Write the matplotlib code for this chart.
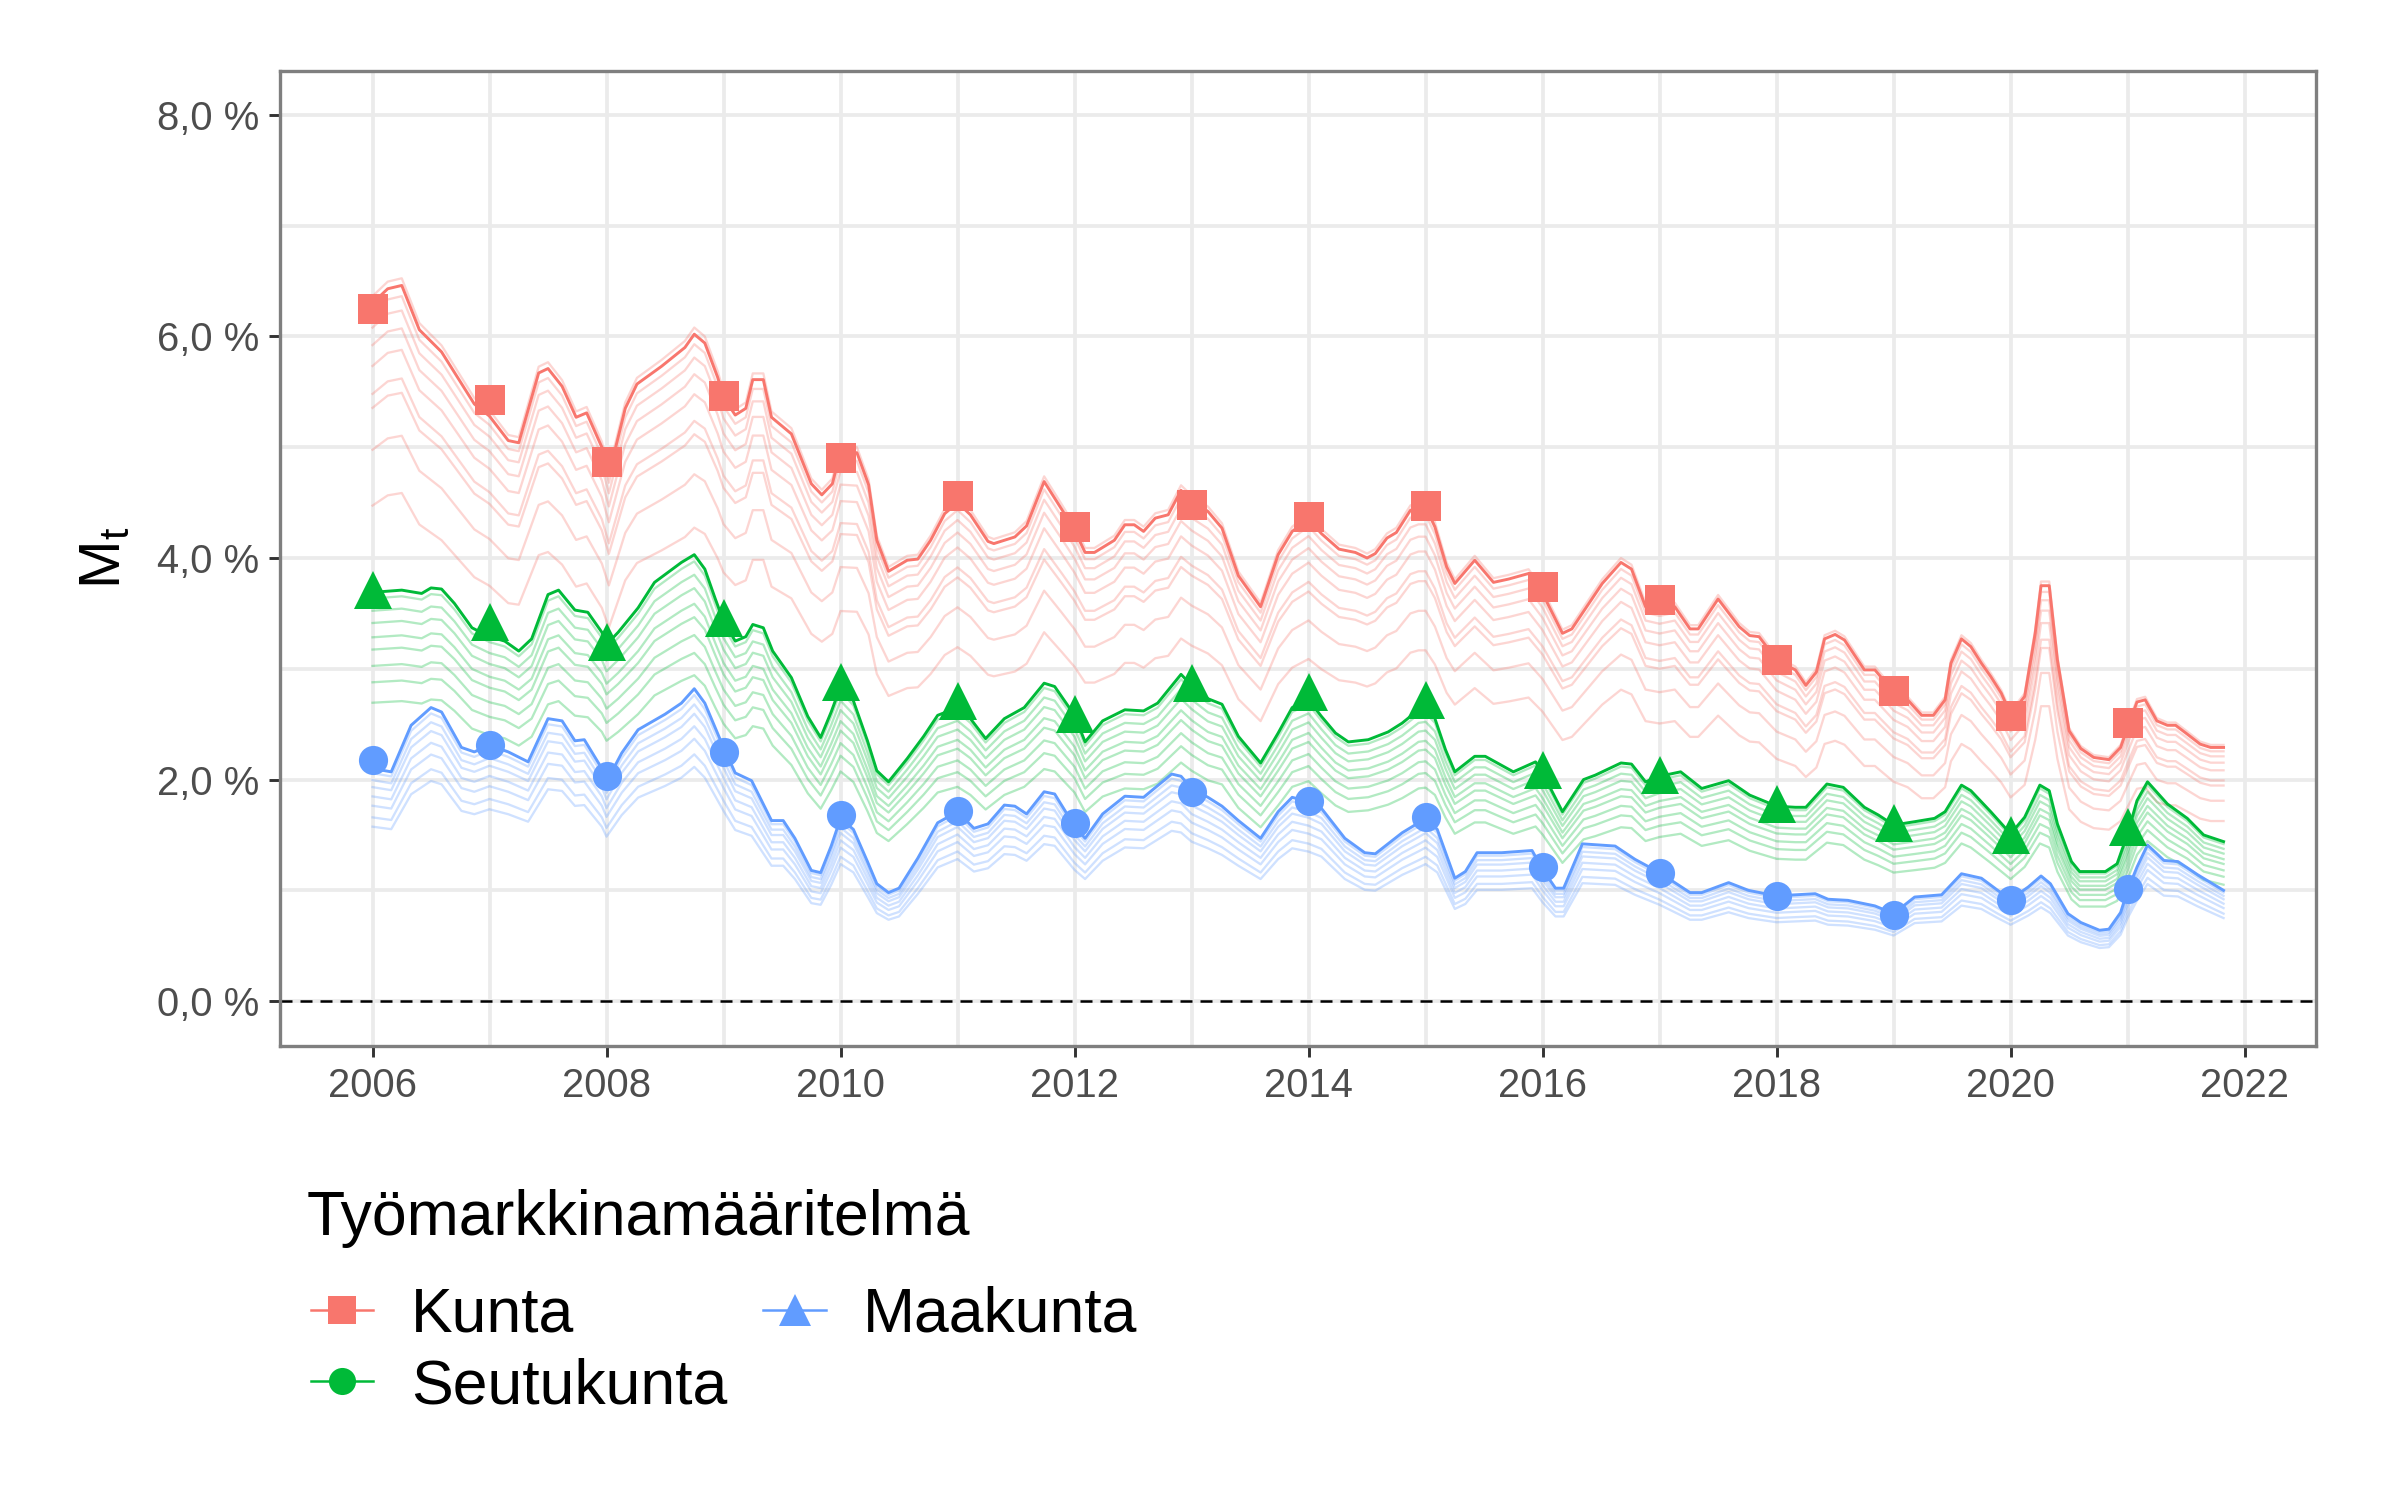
import numpy as np
import matplotlib
matplotlib.use('Agg')
import matplotlib.pyplot as plt
from matplotlib.lines import Line2D

plt.rcParams['font.family'] = ['Liberation Sans', 'DejaVu Sans']
plt.rcParams['mathtext.fontset'] = 'custom'
plt.rcParams['mathtext.rm'] = 'Liberation Sans'

# main (top) line of each group
kunta_t = [2006.00, 2006.13, 2006.25, 2006.40, 2006.59, 2006.87, 2007.00, 2007.16, 2007.25, 2007.42,
           2007.50, 2007.62, 2007.74, 2007.83, 2007.96, 2008.02, 2008.16, 2008.26, 2008.47, 2008.67,
           2008.75, 2008.84, 2008.95, 2009.00, 2009.10, 2009.19, 2009.25, 2009.34, 2009.41, 2009.58,
           2009.75, 2009.84, 2009.93, 2010.00, 2010.14, 2010.24, 2010.31, 2010.41, 2010.57, 2010.66,
           2010.77, 2010.89, 2011.00, 2011.11, 2011.26, 2011.31, 2011.49, 2011.59, 2011.74, 2011.89,
           2012.00, 2012.09, 2012.17, 2012.34, 2012.43, 2012.51, 2012.59, 2012.69, 2012.80, 2012.91,
           2013.00, 2013.14, 2013.26, 2013.40, 2013.59, 2013.74, 2013.86, 2014.00, 2014.11, 2014.26,
           2014.40, 2014.50, 2014.57, 2014.67, 2014.75, 2014.87, 2014.94, 2015.00, 2015.08, 2015.18,
           2015.25, 2015.42, 2015.58, 2015.71, 2015.88, 2016.00, 2016.17, 2016.25, 2016.51, 2016.67,
           2016.76, 2016.88, 2017.00, 2017.13, 2017.26, 2017.33, 2017.50, 2017.68, 2017.77, 2017.85,
           2018.00, 2018.16, 2018.25, 2018.34, 2018.41, 2018.50, 2018.58, 2018.75, 2018.84, 2019.00,
           2019.12, 2019.24, 2019.34, 2019.44, 2019.49, 2019.58, 2019.66, 2019.75, 2019.83, 2019.92,
           2020.00, 2020.12, 2020.21, 2020.26, 2020.33, 2020.40, 2020.50, 2020.60, 2020.71, 2020.84,
           2020.94, 2021.00, 2021.08, 2021.15, 2021.25, 2021.34, 2021.41, 2021.51, 2021.62, 2021.71,
           2021.82]
kunta_v = [6.30, 6.43, 6.46, 6.06, 5.86, 5.39, 5.28, 5.06, 5.04, 5.67,
           5.71, 5.55, 5.27, 5.31, 5.00, 4.75, 5.35, 5.57, 5.73, 5.90,
           6.02, 5.94, 5.63, 5.45, 5.29, 5.35, 5.61, 5.61, 5.27, 5.12,
           4.67, 4.57, 4.67, 4.96, 4.95, 4.66, 4.16, 3.88, 3.98, 3.99,
           4.16, 4.40, 4.50, 4.39, 4.15, 4.13, 4.19, 4.29, 4.69, 4.44,
           4.25, 4.05, 4.05, 4.16, 4.30, 4.30, 4.24, 4.36, 4.39, 4.61,
           4.52, 4.42, 4.27, 3.84, 3.56, 4.03, 4.24, 4.35, 4.22, 4.08,
           4.05, 4.00, 4.04, 4.18, 4.23, 4.43, 4.46, 4.46, 4.28, 3.92,
           3.77, 3.98, 3.78, 3.81, 3.86, 3.68, 3.32, 3.36, 3.77, 3.96,
           3.90, 3.56, 3.53, 3.56, 3.36, 3.36, 3.63, 3.38, 3.30, 3.29,
           3.08, 2.99, 2.85, 2.97, 3.27, 3.31, 3.26, 2.99, 2.99, 2.79,
           2.72, 2.58, 2.58, 2.72, 3.05, 3.27, 3.20, 3.05, 2.93, 2.78,
           2.59, 2.75, 3.32, 3.75, 3.75, 3.08, 2.44, 2.28, 2.20, 2.18,
           2.29, 2.47, 2.70, 2.72, 2.53, 2.49, 2.49, 2.41, 2.32, 2.29,
           2.29]

seutu_t = [2006.00, 2006.25, 2006.42, 2006.50, 2006.59, 2006.70, 2006.85, 2007.00, 2007.13, 2007.25,
           2007.36, 2007.50, 2007.59, 2007.73, 2007.84, 2007.96, 2008.00, 2008.10, 2008.27, 2008.41,
           2008.64, 2008.75, 2008.84, 2008.93, 2009.00, 2009.10, 2009.19, 2009.25, 2009.34, 2009.42,
           2009.58, 2009.72, 2009.83, 2009.92, 2010.00, 2010.11, 2010.23, 2010.31, 2010.41, 2010.57,
           2010.71, 2010.83, 2011.00, 2011.11, 2011.24, 2011.40, 2011.57, 2011.74, 2011.83, 2012.00,
           2012.09, 2012.24, 2012.43, 2012.59, 2012.71, 2012.91, 2013.00, 2013.14, 2013.26, 2013.40,
           2013.59, 2013.74, 2013.86, 2014.00, 2014.11, 2014.23, 2014.34, 2014.51, 2014.68, 2014.80,
           2014.94, 2015.00, 2015.08, 2015.17, 2015.25, 2015.42, 2015.51, 2015.75, 2015.94, 2016.00,
           2016.17, 2016.35, 2016.45, 2016.67, 2016.76, 2016.88, 2017.00, 2017.18, 2017.36, 2017.59,
           2017.77, 2018.00, 2018.16, 2018.25, 2018.43, 2018.57, 2018.75, 2018.87, 2019.00, 2019.18,
           2019.35, 2019.44, 2019.58, 2019.66, 2019.83, 2020.00, 2020.12, 2020.25, 2020.33, 2020.40,
           2020.52, 2020.59, 2020.81, 2020.91, 2021.00, 2021.08, 2021.17, 2021.34, 2021.51, 2021.65,
           2021.82]
seutu_v = [3.69, 3.71, 3.68, 3.73, 3.72, 3.59, 3.37, 3.29, 3.25, 3.16,
           3.27, 3.67, 3.71, 3.53, 3.51, 3.33, 3.22, 3.33, 3.55, 3.78,
           3.96, 4.03, 3.90, 3.63, 3.43, 3.25, 3.29, 3.40, 3.37, 3.16,
           2.92, 2.57, 2.38, 2.61, 2.84, 2.71, 2.35, 2.08, 1.98, 2.19,
           2.39, 2.58, 2.65, 2.55, 2.37, 2.55, 2.65, 2.87, 2.84, 2.58,
           2.34, 2.53, 2.63, 2.62, 2.69, 2.95, 2.85, 2.73, 2.68, 2.39,
           2.15, 2.42, 2.65, 2.72, 2.57, 2.42, 2.34, 2.36, 2.43, 2.51,
           2.63, 2.64, 2.55, 2.27, 2.07, 2.21, 2.21, 2.07, 2.16, 2.06,
           1.71, 2.00, 2.04, 2.15, 2.14, 1.98, 2.03, 2.07, 1.92, 1.99,
           1.86, 1.76, 1.75, 1.75, 1.96, 1.93, 1.75, 1.68, 1.59, 1.62,
           1.65, 1.71, 1.95, 1.90, 1.71, 1.51, 1.66, 1.95, 1.90, 1.60,
           1.26, 1.17, 1.17, 1.24, 1.51, 1.81, 1.98, 1.78, 1.65, 1.50,
           1.44]

maak_t = [2006.00, 2006.16, 2006.33, 2006.50, 2006.59, 2006.76, 2006.87, 2007.00, 2007.16, 2007.33,
          2007.50, 2007.62, 2007.73, 2007.81, 2007.96, 2008.00, 2008.13, 2008.27, 2008.50, 2008.64,
          2008.75, 2008.84, 2009.00, 2009.10, 2009.24, 2009.41, 2009.51, 2009.61, 2009.75, 2009.83,
          2009.92, 2010.00, 2010.11, 2010.23, 2010.31, 2010.41, 2010.50, 2010.66, 2010.83, 2011.00,
          2011.14, 2011.26, 2011.40, 2011.49, 2011.59, 2011.74, 2011.83, 2012.00, 2012.09, 2012.24,
          2012.43, 2012.59, 2012.83, 2012.91, 2013.00, 2013.14, 2013.26, 2013.40, 2013.59, 2013.74,
          2013.86, 2014.00, 2014.11, 2014.31, 2014.48, 2014.57, 2014.80, 2014.94, 2015.00, 2015.10,
          2015.25, 2015.34, 2015.44, 2015.65, 2015.91, 2016.00, 2016.11, 2016.18, 2016.34, 2016.62,
          2016.79, 2017.00, 2017.26, 2017.36, 2017.59, 2017.76, 2018.00, 2018.16, 2018.33, 2018.44,
          2018.61, 2018.84, 2019.00, 2019.18, 2019.41, 2019.58, 2019.75, 2019.89, 2020.00, 2020.15,
          2020.26, 2020.34, 2020.49, 2020.60, 2020.76, 2020.84, 2020.94, 2021.00, 2021.08, 2021.17,
          2021.31, 2021.43, 2021.60, 2021.82]
maak_v = [2.10, 2.07, 2.49, 2.65, 2.61, 2.29, 2.25, 2.31, 2.25, 2.16,
          2.55, 2.53, 2.35, 2.36, 2.10, 1.98, 2.24, 2.45, 2.59, 2.69,
          2.82, 2.69, 2.29, 2.06, 1.99, 1.63, 1.63, 1.47, 1.18, 1.16,
          1.40, 1.65, 1.55, 1.26, 1.06, 0.98, 1.02, 1.29, 1.61, 1.71,
          1.56, 1.60, 1.77, 1.76, 1.69, 1.89, 1.87, 1.58, 1.47, 1.69,
          1.85, 1.84, 2.05, 2.03, 1.92, 1.84, 1.76, 1.63, 1.47, 1.71,
          1.84, 1.80, 1.74, 1.47, 1.34, 1.33, 1.52, 1.61, 1.65, 1.55,
          1.11, 1.17, 1.34, 1.34, 1.36, 1.19, 1.02, 1.02, 1.42, 1.40,
          1.28, 1.16, 0.98, 0.98, 1.07, 1.00, 0.95, 0.96, 0.97, 0.92,
          0.91, 0.86, 0.79, 0.94, 0.96, 1.15, 1.11, 1.00, 0.92, 1.03,
          1.13, 1.06, 0.79, 0.71, 0.64, 0.65, 0.80, 1.00, 1.21, 1.41,
          1.27, 1.26, 1.14, 1.00]

# fainter lines sit at roughly these fractions of the main line
kunta_ratios = [1.01, 0.985, 0.965, 0.94, 0.91, 0.87, 0.85, 0.79, 0.71]
seutu_ratios = [0.985, 0.955, 0.925, 0.89, 0.86, 0.82, 0.78, 0.73]
maak_ratios = [0.98, 0.95, 0.92, 0.88, 0.84, 0.79, 0.75]

# yearly markers
marker_years = list(range(2006, 2022))
kunta_pts = [6.25, 5.43, 4.87, 5.46, 4.90, 4.56, 4.28, 4.48, 4.37, 4.47, 3.74, 3.62, 3.08, 2.80, 2.57, 2.51]
seutu_pts = [3.71, 3.42, 3.24, 3.46, 2.88, 2.71, 2.59, 2.87, 2.79, 2.72, 2.09, 2.04, 1.78, 1.61, 1.50, 1.57]
maak_pts = [2.18, 2.31, 2.03, 2.25, 1.68, 1.72, 1.61, 1.89, 1.81, 1.66, 1.21, 1.16, 0.95, 0.78, 0.91, 1.01]

legend_title = 'Työmarkkinamääritelmä'
legend_labels = ['Kunta', 'Seutukunta', 'Maakunta']

red = '#F8766D'
green = '#00BA38'
blue = '#619CFF'

fig = plt.figure(figsize=(8, 5), dpi=300)
ax = fig.add_axes([0.1167, 0.303, 0.8483, 0.650])

groups = [(kunta_t, kunta_v, kunta_ratios, red),
          (seutu_t, seutu_v, seutu_ratios, green),
          (maak_t, maak_v, maak_ratios, blue)]
for t, v, ratios, col in groups:
    v = np.array(v)
    for r in ratios:
        ax.plot(t, v * r, color=col, lw=0.55, alpha=0.3, zorder=2)
    ax.plot(t, v, color=col, lw=0.7, zorder=3)

ax.axhline(0, color='black', lw=0.6, dashes=(4.8, 3.2), zorder=2)

ax.plot(marker_years, kunta_pts, ls='none', marker='s', ms=7.2, color=red, mew=0, zorder=5)
ax.plot(marker_years, seutu_pts, ls='none', marker='^', ms=9.0, color=green, mew=0, zorder=5)
ax.plot(marker_years, maak_pts, ls='none', marker='o', ms=7.0, color=blue, mew=0, zorder=5)

ax.set_xlim(2005.21, 2022.61)
ax.set_ylim(-0.4, 8.4)
ax.set_xticks(range(2006, 2023, 2))
ax.set_xticks(range(2007, 2023, 2), minor=True)
ax.set_yticks([0, 2, 4, 6, 8])
ax.set_yticks([1, 3, 5, 7], minor=True)
ax.set_yticklabels([f'{v:.1f} %'.replace('.', ',') for v in [0, 2, 4, 6, 8]])
ax.grid(True, which='both', color='#EBEBEB', lw=0.9, zorder=0)
ax.set_axisbelow(True)
ax.tick_params(which='major', length=2.6, width=0.7, color='#333333',
               labelsize=9.6, labelcolor='#4D4D4D', pad=2.5)
ax.tick_params(which='minor', length=0)
for s in ax.spines.values():
    s.set_color('#7F7F7F')
    s.set_linewidth(0.8)

ax.set_ylabel(r'$\mathregular{M_t}$', fontsize=14, labelpad=6)

# legend (shapes as in the original legend)
fig.text(0.1276, 0.188, legend_title, fontsize=15, ha='left', va='center')
handles = [Line2D([], [], color=red, lw=0.6, marker='s', ms=6.5, mew=0),
           Line2D([], [], color=green, lw=0.6, marker='o', ms=6.5, mew=0),
           Line2D([], [], color=blue, lw=0.6, marker='^', ms=7.5, mew=0)]
fig.legend(handles, legend_labels, loc='upper left', bbox_to_anchor=(0.1295, 0.143),
           ncol=2, frameon=False, fontsize=15, handlelength=1.0, handletextpad=0.6,
           columnspacing=0.58, labelspacing=0.2, borderaxespad=0, borderpad=0)

fig.savefig('out.png', dpi=300)
